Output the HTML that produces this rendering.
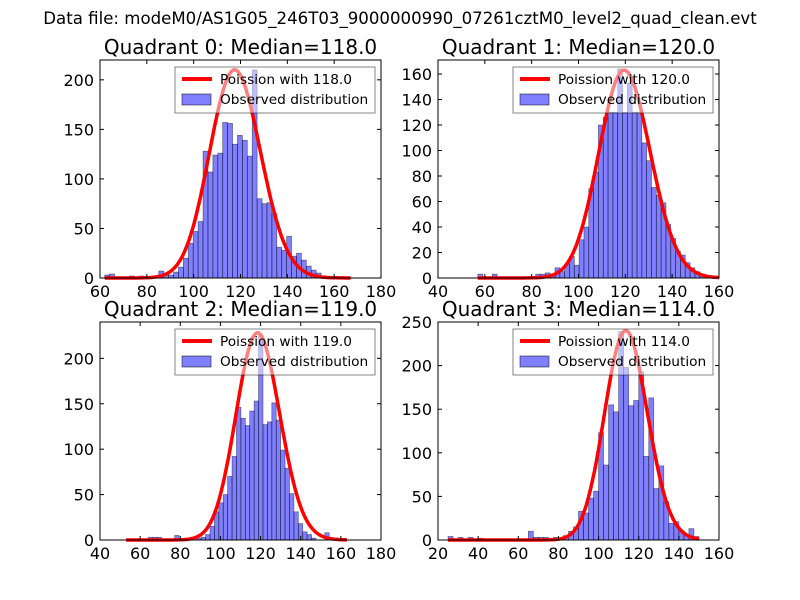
<!DOCTYPE html>
<html><head><meta charset="utf-8">
<style>
html,body{margin:0;padding:0;background:#fff;}
svg{display:block;font-family:"DejaVu Sans","Liberation Sans",sans-serif;}
</style></head>
<body>
<svg id="fig" width="800" height="600" viewBox="0 0 800 600">
<rect width="800" height="600" fill="#fff"/>
<text x="400" y="24" text-anchor="middle" font-size="16.6">Data file: modeM0/AS1G05_246T03_9000000990_07261cztM0_level2_quad_clean.evt</text>
</svg>
<script>
// Quadrant 0
const q0Counts=[3,4,0,0,0,2,0,2,0,0,0,7,4,3,6,11,20,35,47,57,128,107,124,126,157,156,135,144,139,123,210,80,75,76,65,31,28,42,22,25,18,12,8,5,2,0,0,0,0,1];
const q0Start=62, q0Width=2.1, q0Lambda=118.0, q0Peak=210, q0CurveRange=[62,167];
const q0XTicks=[60,80,100,120,140,160,180];
const q0YTicks=[0,50,100,150,200];
// Quadrant 1
const q1Counts=[3,0,0,3,0,0,0,0,0,0,0,1,3,3,4,3,8,5,11,17,10,30,40,70,83,120,126,130,130,164,130,153,130,130,106,92,71,65,59,42,31,21,18,12,8,5,2,1,1,1];
const q1Start=57, q1Width=2.06, q1Lambda=120.0, q1Peak=163, q1CurveRange=[57,160];
const q1XTicks=[40,60,80,100,120,140,160];
const q1YTicks=[0,20,40,60,80,100,120,140,160];
// Quadrant 2
const q2Counts=[0,0,0,0,0,3,3,3,0,0,0,5,0,0,0,0,2,3,6,15,31,41,50,70,92,146,134,126,142,153,225,127,130,151,132,99,79,51,31,18,9,6,2,0,0,8,0,0,2,0];
const q2Start=53, q2Width=2.2, q2Lambda=119.0, q2Peak=228, q2CurveRange=[53,163];
const q2XTicks=[40,60,80,100,120,140,160,180];
const q2YTicks=[0,50,100,150,200];
// Quadrant 3
const q3Counts=[4,0,3,0,3,0,2,0,1,0,0,0,0,0,0,0,10,3,3,3,2,3,2,5,10,15,33,31,48,56,123,86,155,147,239,198,154,160,193,96,163,59,85,44,19,21,11,6,13,4];
const q3Start=25, q3Width=2.5, q3Lambda=114.0, q3Peak=240, q3CurveRange=[25,150];
const q3XTicks=[20,40,60,80,100,120,140,160];
const q3YTicks=[0,50,100,150,200,250];

const NS="http://www.w3.org/2000/svg";
const svg=document.getElementById('fig');
function mk(tag,attrs,parent){const e=document.createElementNS(NS,tag);for(const k in attrs)e.setAttribute(k,attrs[k]);(parent||svg).appendChild(e);return e;}
function lgamma(z){const c=[76.18009172947146,-86.50532032941677,24.01409824083091,-1.231739572450155,0.1208650973866179e-2,-0.5395239384953e-5];let x=z,y=z,t=x+5.5;t-=(x+0.5)*Math.log(t);let s=1.000000000190015;for(let j=0;j<6;j++)s+=c[j]/++y;return -t+Math.log(2.5066282746310005*s/x);}
function pois(k,l){return Math.exp(k*Math.log(l)-l-lgamma(k+1));}

function panel(cfg){
  const {idx,L,T,W,H,xmin,xmax,ymax,counts,start,width,lambda,peak,range,xt,yt}=cfg;
  const g=mk('g',{});
  
  
  const xs=v=>L+(v-xmin)/(xmax-xmin)*W;
  const ys=v=>T+H-v/ymax*H;
  const t=mk('text',{x:L+W/2,y:T-6,'text-anchor':'middle','font-size':'20'},g);
  t.textContent='Quadrant '+idx+': Median='+lambda.toFixed(1);
  
  
  counts.forEach((c,i)=>{
    if(c<=0)return;
    const x0=xs(start+i*width),x1=xs(start+(i+1)*width);
    const r=mk('rect',{x:x0,y:ys(c),width:x1-x0,height:ys(0)-ys(c),fill:'rgba(0,0,255,0.5)',stroke:'rgba(0,0,0,0.5)','stroke-width':'0.7'},g);
    
    
  });
  const pmax=pois(Math.round(lambda),lambda);
  const pts=[];
  for(let k=Math.ceil(range[0]);k<=range[1];k++){pts.push(xs(k).toFixed(1)+','+ys(peak*pois(k,lambda)/pmax).toFixed(1));}
  const cp=mk('polyline',{points:pts.join(' '),fill:'none',stroke:'#ff0000','stroke-width':'3.5','stroke-linejoin':'round'},g);
  
  
  const fr=mk('rect',{x:L,y:T,width:W,height:H,fill:'none',stroke:'#000','stroke-width':'1'},g);
  
  
  xt.forEach(v=>{
    const x=xs(v);
    mk('line',{x1:x,x2:x,y1:T+H,y2:T+H-4,stroke:'#000'},g);
    mk('line',{x1:x,x2:x,y1:T,y2:T+4,stroke:'#000'},g);
    const tx=mk('text',{x:x,y:T+H+19,'text-anchor':'middle','font-size':'16'},g);
    tx.textContent=v;
    
    
  });
  yt.forEach(v=>{
    const y=ys(v);
    mk('line',{x1:L,x2:L+4,y1:y,y2:y,stroke:'#000'},g);
    mk('line',{x1:L+W,x2:L+W-4,y1:y,y2:y,stroke:'#000'},g);
    const ty=mk('text',{x:L-6,y:y+6,'text-anchor':'end','font-size':'16'},g);
    ty.textContent=v;
    
    
  });
  const lx=L+75, ly=T+7;
  const lg=mk('g',{},g);
  
  
  mk('rect',{x:lx,y:ly,width:200,height:46,fill:'rgba(255,255,255,0.5)',stroke:'rgba(0,0,0,0.6)','stroke-width':'0.8'},lg);
  mk('line',{x1:lx+7,x2:lx+37,y1:ly+12,y2:ly+12,stroke:'red','stroke-width':'4'},lg);
  mk('rect',{x:lx+7,y:ly+27,width:29,height:11,fill:'rgba(0,0,255,0.5)',stroke:'rgba(0,0,0,0.5)'},lg);
  const t1=mk('text',{x:lx+45,y:ly+17,'font-size':'13.7'},lg);t1.textContent='Poission with '+lambda.toFixed(1);
  
  
  const t2=mk('text',{x:lx+45,y:ly+37,'font-size':'13.7'},lg);t2.textContent='Observed distribution';
  
  
}
panel({idx:0,L:100,T:60,W:281,H:218,xmin:60,xmax:180,ymax:220,counts:q0Counts,start:q0Start,width:q0Width,lambda:q0Lambda,peak:q0Peak,range:q0CurveRange,xt:q0XTicks,yt:q0YTicks});
panel({idx:1,L:438,T:60,W:281,H:218,xmin:40,xmax:160,ymax:171,counts:q1Counts,start:q1Start,width:q1Width,lambda:q1Lambda,peak:q1Peak,range:q1CurveRange,xt:q1XTicks,yt:q1YTicks});
panel({idx:2,L:100,T:322,W:281,H:218,xmin:40,xmax:180,ymax:240,counts:q2Counts,start:q2Start,width:q2Width,lambda:q2Lambda,peak:q2Peak,range:q2CurveRange,xt:q2XTicks,yt:q2YTicks});
panel({idx:3,L:438,T:322,W:281,H:218,xmin:20,xmax:160,ymax:250,counts:q3Counts,start:q3Start,width:q3Width,lambda:q3Lambda,peak:q3Peak,range:q3CurveRange,xt:q3XTicks,yt:q3YTicks});
</script>
</body></html>
